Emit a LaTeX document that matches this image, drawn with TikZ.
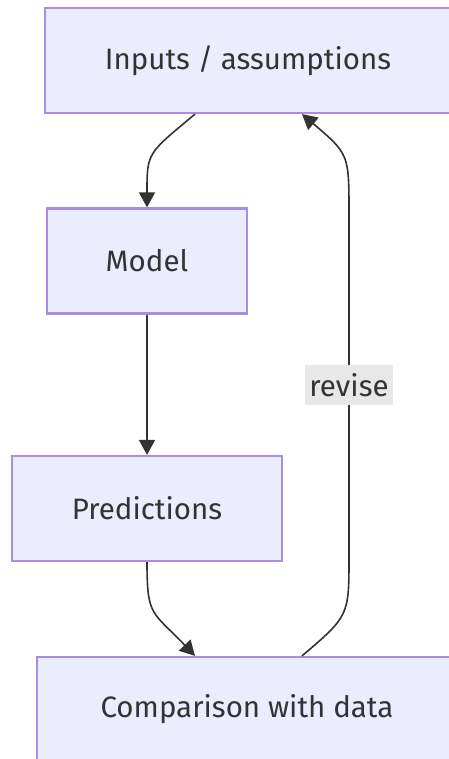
\documentclass[tikz,border=0pt]{standalone}
\usepackage{fontspec}
\setmainfont{Fira Sans}
\usepackage{tikz}
\usetikzlibrary{arrows.meta, positioning, calc}

\definecolor{boxfill}{HTML}{ECECFF}
\definecolor{boxline}{HTML}{9370DB}
\definecolor{inkgray}{HTML}{333333}
\definecolor{labelbg}{HTML}{E8E8E8}

\begin{document}
\begin{tikzpicture}[
    x=1pt, y=-1pt,
    stage/.style={rectangle, draw=boxline!80, line width=2.2pt, fill=boxfill, minimum height=105pt, align=center, text=inkgray, font=\fontsize{29.5}{34}\selectfont},
    arrow/.style={-{Triangle[length=15pt, width=16pt]}, draw=inkgray, line width=1.6pt},
    edgelabel/.style={fill=labelbg, text=inkgray, inner xsep=4pt, inner ysep=8pt, font=\fontsize{29.5}{34}\selectfont}
]
\useasboundingbox (0,0) rectangle (448,759);

% Stages
\node[stage, minimum width=406pt] (inputs) at (248, 60.5) {Inputs / assumptions};
\node[stage, minimum width=200pt] (model) at (147, 261) {Model};
\node[stage, minimum width=270pt] (predictions) at (147, 508.5) {Predictions};
\node[stage, minimum width=420pt] (comparison) at (247, 709.5) {Comparison with data};

% Arrows
\draw[arrow] ($(inputs.south)+(-53,0)$) .. controls ($(inputs.south)+(-101,40)$) and ($(model.north)+(0,-55)$) .. (model.north);
\draw[arrow] (model) -- (predictions);
\draw[arrow] (predictions.south) .. controls ($(predictions.south)+(0,55)$) and ($(comparison.north)+(-95,-45)$) .. ($(comparison.north)+(-52,0)$);
\draw[arrow] ($(comparison.north)+(55,0)$) .. controls ($(comparison.north)+(102,-40)$) .. ($(comparison.north)+(102,-100)$)
    -- node[edgelabel] {revise} ($(inputs.south)+(101,100)$)
    .. controls ($(inputs.south)+(101,40)$) .. ($(inputs.south)+(54,0)$);

\end{tikzpicture}
\end{document}
